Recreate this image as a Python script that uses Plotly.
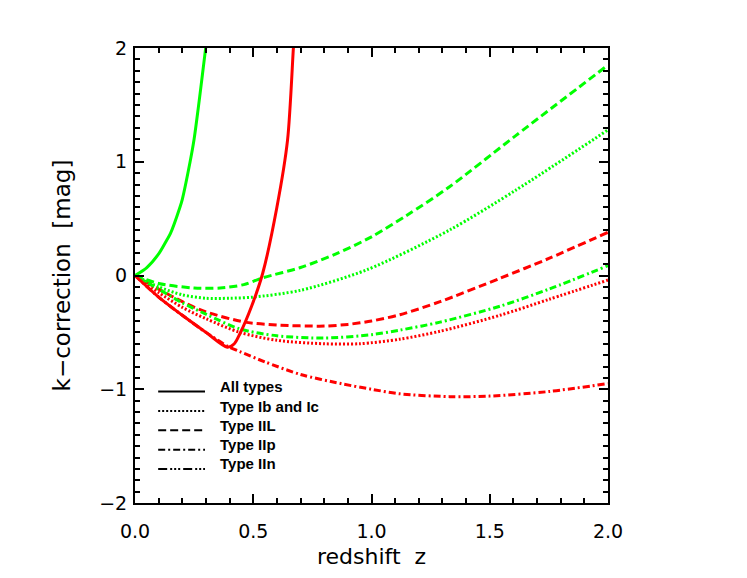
import plotly.graph_objects as go

# ---- data (redshift z, k-correction in mag) ----
GREEN = "#00ff00"
RED = "#ff0000"

# "All types" (solid)
z_all_g = [0.0, 0.05, 0.10, 0.134, 0.15, 0.19, 0.20, 0.233, 0.25, 0.268, 0.28, 0.29, 0.30, 0.305]
k_all_g = [0.0, 0.07, 0.19, 0.31, 0.37, 0.60, 0.67, 1.00, 1.20, 1.48, 1.68, 1.85, 2.02, 2.12]
z_all_r = [0.0, 0.1, 0.2, 0.3, 0.39, 0.42, 0.444, 0.493, 0.54, 0.60, 0.645, 0.67, 0.675]
k_all_r = [0.0, -0.19, -0.35, -0.50, -0.63, -0.60, -0.51, -0.27, 0.02, 0.60, 1.19, 2.01, 2.15]

# Type Ib and Ic (dotted)
z_ibc_g = [0.0, 0.1, 0.2, 0.3, 0.4, 0.5, 0.7, 0.98, 1.33, 1.61, 2.0]
k_ibc_g = [0.0, -0.10, -0.17, -0.20, -0.20, -0.19, -0.13, 0.05, 0.40, 0.75, 1.28]
z_ibc_r = [0.0, 0.1, 0.2, 0.3, 0.444, 0.6, 0.8, 0.95, 1.12, 1.29, 1.543, 1.75, 2.0]
k_ibc_r = [0.0, -0.15, -0.28, -0.38, -0.50, -0.57, -0.60, -0.60, -0.56, -0.49, -0.35, -0.21, -0.04]

# Type IIL (dashed)
z_iil_g = [0.0, 0.1, 0.25, 0.36, 0.46, 0.54, 0.70, 0.85, 1.0, 1.15, 1.33, 1.61, 2.0]
k_iil_g = [0.0, -0.07, -0.11, -0.11, -0.08, -0.02, 0.07, 0.19, 0.34, 0.53, 0.78, 1.23, 1.85]
z_iil_r = [0.0, 0.1, 0.21, 0.3, 0.465, 0.6, 0.8, 0.9, 1.0, 1.12, 1.29, 1.543, 1.75, 2.0]
k_iil_r = [0.0, -0.12, -0.24, -0.32, -0.41, -0.435, -0.445, -0.43, -0.40, -0.345, -0.23, -0.025, 0.15, 0.38]

# Type IIp (dash-dot)
z_iip_g = [0.0, 0.1, 0.2, 0.3, 0.444, 0.6, 0.8, 1.0, 1.12, 1.29, 1.543, 1.75, 2.0]
k_iip_g = [0.0, -0.12, -0.24, -0.34, -0.47, -0.53, -0.55, -0.52, -0.48, -0.41, -0.27, -0.12, 0.086]
z_iip_r = [0.0, 0.1, 0.2, 0.3, 0.39, 0.444, 0.55, 0.7, 0.87, 1.0, 1.12, 1.33, 1.5, 1.75, 2.0]
k_iip_r = [0.0, -0.19, -0.35, -0.50, -0.62, -0.67, -0.76, -0.87, -0.95, -1.00, -1.04, -1.065, -1.06, -1.02, -0.95]

legend_names = ["All types", "Type Ib and Ic", "Type IIL", "Type IIp", "Type IIn"]

# dash patterns (IDL-like)
DOT = "2px,2px"
DASH = "8px,4px"
DASHDOT = "7px,3px,2px,3px"
DASH3DOT = "9px,3px,2px,2px,2px,2px,2px,3px"
legend_dash = ["solid", DOT, DASH, DASHDOT, DASH3DOT]

curves = [
    (z_iip_r, k_iip_r, RED, DASHDOT),
    (z_ibc_r, k_ibc_r, RED, DOT),
    (z_iil_r, k_iil_r, RED, DASH),
    (z_iip_g, k_iip_g, GREEN, DASHDOT),
    (z_iil_g, k_iil_g, GREEN, DASH),
    (z_ibc_g, k_ibc_g, GREEN, DOT),
    (z_all_r, k_all_r, RED, "solid"),
    (z_all_g, k_all_g, GREEN, "solid"),
]

fig = go.Figure()
for z, k, col, dash in curves:
    fig.add_trace(
        go.Scatter(
            x=z, y=k, mode="lines",
            line={"color": col, "width": 3, "dash": dash, "shape": "spline", "smoothing": 0.8},
            showlegend=False, hoverinfo="skip",
        )
    )

# in-plot legend, drawn in paper coords
row_y = [0.245, 0.202, 0.160, 0.117, 0.075]
for name, dash, y in zip(legend_names, legend_dash, row_y):
    fig.add_shape(
        type="line", xref="paper", yref="paper",
        x0=0.049, x1=0.148, y0=y, y1=y,
        line={"color": "black", "width": 2, "dash": dash},
    )
    fig.add_annotation(
        xref="paper", yref="paper", x=0.175, y=y + 0.011,
        xanchor="left", yanchor="middle", showarrow=False,
        text=f"<b>{name}</b>",
        font={"family": "Liberation Sans, Arial", "size": 15, "color": "black"},
    )

axis_common = dict(
    showgrid=False, zeroline=False, automargin=False,
    showline=True, linecolor="black", linewidth=2, mirror="ticks",
    ticks="inside", ticklen=9, tickwidth=2, tickcolor="black",
    tickfont={"family": "DejaVu Sans", "size": 19, "color": "black"},
    minor={"ticks": "inside", "ticklen": 5, "tickwidth": 1.5, "tickcolor": "black", "dtick": 0.1},
)

# page body adds an 8px offset, margins account for it
fig.update_layout(
    width=747, height=578,
    paper_bgcolor="white", plot_bgcolor="white",
    margin={"l": 127, "r": 147, "t": 40, "b": 83},
    xaxis=dict(
        axis_common, range=[0, 2], dtick=0.5, tick0=0, tickformat=".1f",
        ticklabelstandoff=10,
        title={"text": "redshift  z", "font": {"family": "DejaVu Sans", "size": 22, "color": "black"}, "standoff": 8},
    ),
    yaxis=dict(
        axis_common, range=[-2, 2], dtick=1, tick0=0,
        ticklabelstandoff=2,
        title={"text": "k\u2212correction  [mag]", "font": {"family": "DejaVu Sans", "size": 23, "color": "black"}, "standoff": 22},
    ),
)

fig.write_html("out.html")
